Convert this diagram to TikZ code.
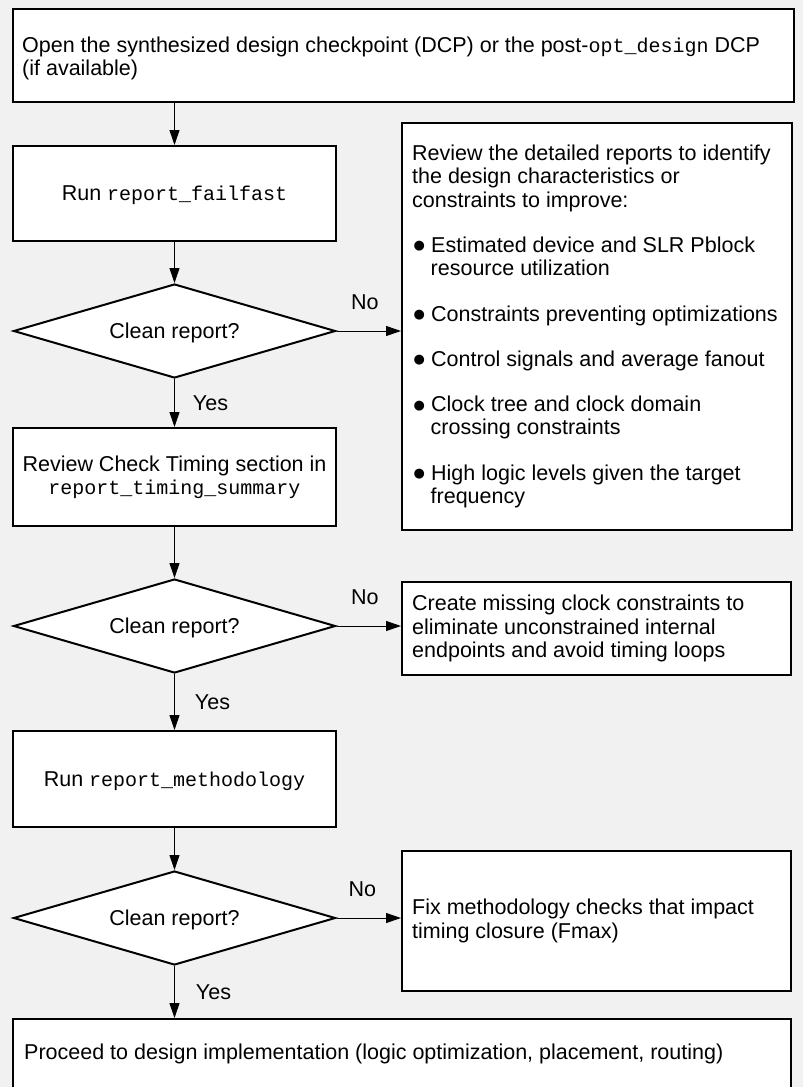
\documentclass[tikz,border=0pt]{standalone}
\usepackage{fontspec}
\setmainfont{Liberation Sans}
\setmonofont{Liberation Mono}
\newfontfamily\bulfont{DejaVu Sans}
\usetikzlibrary{shapes.geometric,arrows.meta}
\definecolor{bgc}{HTML}{F1F1F1}
\newcommand\codetxt[1]{{\fontsize{20bp}{23.3bp}\selectfont\ttfamily #1}}
\newcommand\bulmark{\makebox[19bp][l]{\hspace{1.5bp}\raisebox{2.5bp}{\bulfont\fontsize{13bp}{23.3bp}\selectfont ●}}}
\newcommand\hind{\hspace*{18.5bp}}
\begin{document}
\begin{tikzpicture}[x=1bp,y=-1bp,
  font=\fontsize{21.5bp}{23.3bp}\selectfont,
  box/.style={draw=black, line width=2bp, fill=white, rectangle, inner sep=0pt},
  dia/.style={draw=black, line width=2bp, fill=white, diamond, aspect=3.4, inner sep=0pt, minimum width=322bp, minimum height=94bp, text depth=0bp},
  txt/.style={inner sep=0pt, align=left, anchor=west},
  arr/.style={line width=1bp, -{Triangle[length=15bp,width=10bp]}},
  lbl/.style={inner sep=0pt}]

\fill[bgc] (0,0) rectangle (803,1087);
\useasboundingbox (0,0) rectangle (803,1087);

% left column
\node[box, minimum width=781bp, minimum height=93bp] (b1) at (403.5,55.5) {};
\node[txt] (t1) at ([xshift=10bp,yshift=-3bp]b1.west) {Open the synthesized design checkpoint (DCP) or the post-\codetxt{opt\_design} DCP\\(if available)};

\node[box, minimum width=323bp, minimum height=95bp, align=center, text depth=0bp] (b2) at (174.5,193.5) {Run \codetxt{report\_failfast}};
\node[dia] (d1) at (174.5,331) {Clean report?};
\node[box, minimum width=323bp, minimum height=98bp, align=center] (b3) at (174.5,477) {Review Check Timing section in\\\codetxt{report\_timing\_summary}};
\node[dia] (d2) at (174.5,626) {Clean report?};
\node[box, minimum width=323bp, minimum height=96bp, align=center, text depth=0bp] (b4) at (174.5,779) {Run \codetxt{report\_methodology}};
\node[dia] (d3) at (174.5,918) {Clean report?};
\node[box, minimum width=778bp, minimum height=70bp] (b5) at (402,1054) {};
\node[txt] (t5) at ([xshift=12bp]b5.west) {Proceed to design implementation (logic optimization, placement, routing)};

% right column
\node[box, minimum width=390bp, minimum height=407bp] (r1) at (597,326.5) {};
\node[txt] (t6) at ([xshift=11bp]r1.west) {Review the detailed reports to identify\\the design characteristics or\\constraints to improve:\\[22bp]%
\bulmark Estimated device and SLR Pblock\\\hind resource utilization\\[22bp]%
\bulmark Constraints preventing optimizations\\[22bp]%
\bulmark Control signals and average fanout\\[22bp]%
\bulmark Clock tree and clock domain\\\hind crossing constraints\\[22bp]%
\bulmark High logic levels given the target\\\hind frequency};

\node[box, minimum width=389bp, minimum height=93bp] (r2) at (596.5,628.5) {};
\node[txt] (t7) at ([xshift=11bp]r2.west) {Create missing clock constraints to\\eliminate unconstrained internal\\endpoints and avoid timing loops};

\node[box, minimum width=389bp, minimum height=140bp] (r3) at (596.5,921) {};
\node[txt] (t8) at ([xshift=11bp]r3.west) {Fix methodology checks that impact\\timing closure (Fmax)};

% connectors
\draw[arr] (b1.south -| b2.north) -- (b2.north);
\draw[arr] (b2.south) -- (d1.north);
\draw[arr] (d1.south) -- (b3.north) node[lbl, pos=.5, xshift=36bp] {Yes};
\draw[arr] (d1.east) -- (d1.east -| r1.west) node[lbl, pos=.44, yshift=29bp] {No};
\draw[arr] (b3.south) -- (d2.north);
\draw[arr] (d2.south) -- (b4.north) node[lbl, pos=.5, xshift=38bp] {Yes};
\draw[arr] (d2.east) -- (d2.east -| r2.west) node[lbl, pos=.44, yshift=29bp] {No};
\draw[arr] (b4.south) -- (d3.north);
\draw[arr] (d3.south) -- (d3.south |- b5.north) node[lbl, pos=.5, xshift=39bp] {Yes};
\draw[arr] (d3.east) -- (d3.east -| r3.west) node[lbl, pos=.4, yshift=29bp] {No};
\end{tikzpicture}
\end{document}
